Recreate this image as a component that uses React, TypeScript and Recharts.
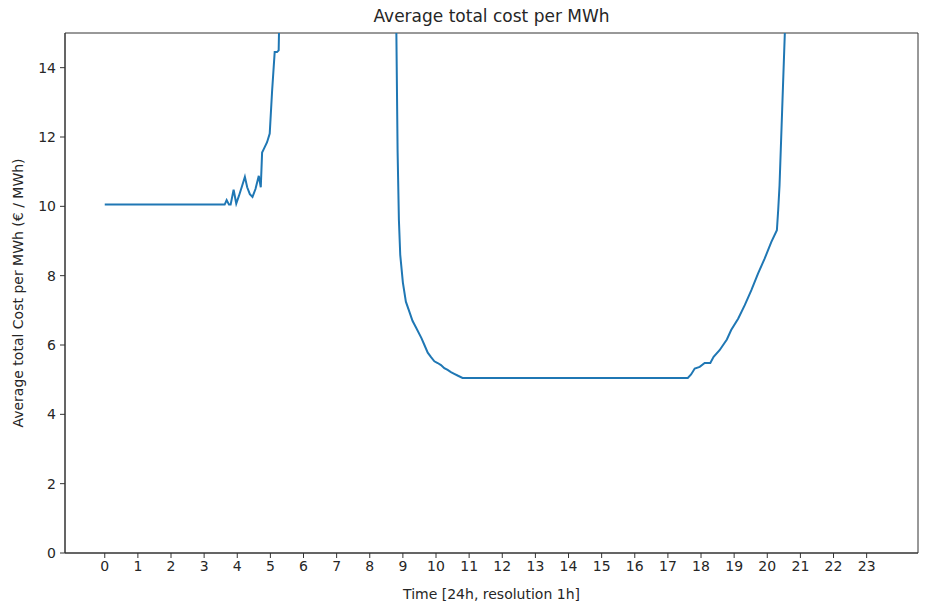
import { LineChart, Line, XAxis, YAxis, ReferenceArea } from "recharts";

// hour of day -> average total cost per MWh (values above 15 are cut off by the axis)
const hours = [
    0, 1, 2, 3, 3.5, 3.62, 3.68, 3.75, 3.8, 3.89, 3.97, 4.05, 4.15, 4.23, 4.3, 4.38, 4.46, 4.55,
    4.65, 4.71, 4.75, 4.8, 4.9, 4.98, 5.05, 5.13, 5.2, 5.25, 5.3, 5.5, 6, 7, 8, 8.5, 8.7, 8.8,
    8.84, 8.88, 8.92, 9.0, 9.09, 9.2, 9.29, 9.4, 9.56, 9.65, 9.75, 9.85, 9.95, 10.05, 10.15, 10.25,
    10.35, 10.45, 10.55, 10.65, 10.8, 11, 12, 13, 14, 15, 16, 17, 17.6, 17.7, 17.81, 17.96, 18.11,
    18.28, 18.38, 18.56, 18.78, 18.91, 19.12, 19.32, 19.52, 19.72, 19.92, 20.12, 20.29, 20.33,
    20.37, 20.45, 20.53, 20.6, 21, 22, 23, 23.4,
];

const cost = [
    10.05, 10.05, 10.05, 10.05, 10.05, 10.05, 10.18, 10.05, 10.05, 10.48, 10.08, 10.3, 10.6, 10.85,
    10.55, 10.35, 10.27, 10.5, 10.88, 10.55, 11.55, 11.65, 11.85, 12.1, 13.3, 14.45, 14.45, 14.5,
    17, 21, 27, 33, 31, 27, 24, 15.3, 11.6, 9.6, 8.6, 7.8, 7.25, 6.95, 6.7, 6.5, 6.2, 6.0, 5.78,
    5.65, 5.53, 5.48, 5.42, 5.33, 5.28, 5.22, 5.17, 5.12, 5.05, 5.05, 5.05, 5.05, 5.05, 5.05, 5.05,
    5.05, 5.05, 5.15, 5.32, 5.37, 5.48, 5.48, 5.66, 5.85, 6.16, 6.43, 6.76, 7.15, 7.58, 8.06, 8.49,
    8.97, 9.31, 9.9, 10.6, 12.8, 15, 18.5, 30, 45, 60, 65,
];

const xTicks = Array.from({ length: 24 }, (_, i) => i);
const yTicks = [0, 2, 4, 6, 8, 10, 12, 14];

const data = hours.map((hour, i) => ({ hour, cost: cost[i] }));

const X_DOMAIN: [number, number] = [-1.2, 24.55];
const Y_DOMAIN: [number, number] = [0, 15];

const font = "'DejaVu Sans', sans-serif";
const tickStyle = { fontSize: 14, fill: "#262626", fontFamily: font };

const App = () => {
    return (
        <div
            style={{
                position: "absolute",
                left: 0,
                top: 0,
                width: 928,
                height: 605,
                background: "#fff",
                fontFamily: font,
                color: "#262626",
            }}
        >
            <div
                style={{
                    position: "absolute",
                    left: 65,
                    width: 853,
                    top: 6,
                    textAlign: "center",
                    fontSize: 17,
                }}
            >
                Average total cost per MWh
            </div>
            <LineChart
                width={928}
                height={605}
                data={data}
                margin={{ top: 33, right: 10, bottom: 0, left: 0 }}
            >
                <XAxis
                    dataKey="hour"
                    type="number"
                    domain={X_DOMAIN}
                    allowDataOverflow
                    ticks={xTicks}
                    interval={0}
                    height={52}
                    tickSize={5}
                    tickMargin={3}
                    tick={tickStyle}
                    stroke="#333"
                />
                <YAxis
                    type="number"
                    domain={Y_DOMAIN}
                    allowDataOverflow
                    ticks={yTicks}
                    interval={0}
                    width={65}
                    tickSize={5}
                    tickMargin={4}
                    tick={tickStyle}
                    stroke="#333"
                />
                <ReferenceArea
                    x1={X_DOMAIN[0]}
                    x2={X_DOMAIN[1]}
                    y1={Y_DOMAIN[0]}
                    y2={Y_DOMAIN[1]}
                    fill="none"
                    stroke="#333"
                    strokeWidth={1}
                />
                <Line
                    type="linear"
                    dataKey="cost"
                    stroke="#1f77b4"
                    strokeWidth={2}
                    dot={false}
                    isAnimationActive={false}
                />
            </LineChart>
            <div
                style={{
                    position: "absolute",
                    left: 65,
                    width: 853,
                    top: 586,
                    textAlign: "center",
                    fontSize: 14,
                }}
            >
                Time [24h, resolution 1h]
            </div>
            <div
                style={{
                    position: "absolute",
                    left: 18,
                    top: 293,
                    transform: "translate(-50%, -50%) rotate(-90deg)",
                    whiteSpace: "nowrap",
                    fontSize: 14,
                }}
            >
                Average total Cost per MWh (€ / MWh)
            </div>
        </div>
    );
};

export default App;
